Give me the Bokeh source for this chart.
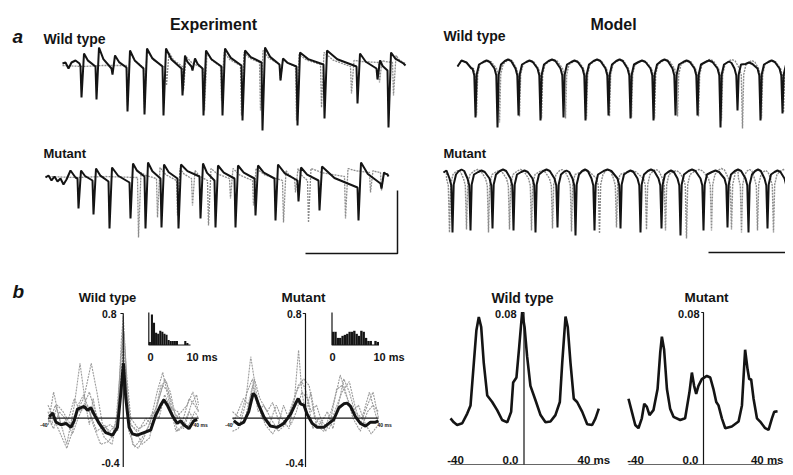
from bokeh.plotting import figure
from bokeh.models import Range1d, Label
from bokeh.embed import file_html
from bokeh.resources import INLINE

W, H = 785, 467
OFF = 0
FONT = "Liberation Sans"

# ---------------- DATA ----------------
# Panel a, Experiment, wild type (time units, potential units)
ewt_start_t = [0, 3, 6, 9, 13, 17]
ewt_start_v = [2, 3, -3, 3, 5, 2]
ewt_spike_t = [19, 34, 50, 65, 82, 101, 120, 130, 141, 160, 180, 200, 218, 235, 262, 295, 315, 326]
ewt_trough = [-32, -34, -9, -46, -49, -50, -30, -5, -50, -50, -55, -65, -15, -60, -53, -38, -14, -62]
ewt_peak = [12, 18, 10, 15, 17, 17, 10, 7, 15, 17, 15, 18, 7, 13, 15, 12, 5, 13]
ewt_pre = [-1, -1, -3, -2, -3, -1, -3, -1, -3, -1, 0, 3, 1, -1, 1, -1, -3, -5]
ewt_end_t = [341, 343]
ewt_end_v = [2, 0]

ewt2_start_t = [0, 20, 40, 61]
ewt2_start_v = [0, -1, 0, 0]
ewt2_spike_t = [65, 82, 104, 121, 142, 159, 179, 198, 218, 234, 259, 289, 317, 331]
ewt2_trough = [-40, -43, -20, -25, -45, -35, -50, -45, -15, -55, -42, -28, -17, -30]
ewt2_peak = [13, 15, 13, 9, 13, 13, 13, 15, 7, 11, 13, 5, 5, 10]
ewt2_pre = [0, -2, -2, -1, -3, -1, 0, 3, 1, -1, 1, -1, 3, 3]
ewt2_end_t = [343]
ewt2_end_v = [2]

# Panel a, Experiment, mutant
emu_start_t = [0, 3, 6, 9, 12, 15, 18, 21, 25, 30]
emu_start_v = [0, 2, -3, 1, -4, -1, -7, -2, 7, 0]
emu_spike_t = [33, 48, 64, 85, 100, 116, 133, 155, 170, 190, 210, 230, 253, 274, 313, 336]
emu_trough = [-31, -37, -51, -41, -51, -50, -51, -41, -50, -50, -38, -43, -24, -33, -43, -11]
emu_peak = [7, 9, 10, 14, 15, 13, 13, 14, 12, 12, 12, 13, 10, 11, 15, 5]
emu_pre = [-1, -3, -4, -5, 1, -1, -1, 1, -3, -1, -1, -1, -3, -3, -10, -6]
emu_end_t = [342, 343]
emu_end_v = [3, 1]

emu2_start_t = [0, 30, 60, 90]
emu2_start_v = [1, 0, 1, 0]
emu2_spike_t = [93, 112, 132, 147, 163, 185, 208, 238, 250, 263, 300, 325, 336]
emu2_trough = [-60, -40, -38, -28, -48, -21, -28, -45, -15, -45, -41, -15, -13]
emu2_peak = [5, 10, 9, 7, 9, 9, 9, 7, 9, 9, 9, 7, 5]
emu2_pre = [0, -1, -3, -1, -3, -1, -3, -3, -1, -3, 1, 5, 5]
emu2_end_t = [343]
emu2_end_v = [3]

# Panel a, Model, wild type
mwt_start_t = [0, 4, 9, 14]
mwt_start_v = [-6, 0, -2, -8]
mwt_spike_t = [18, 40, 61, 83, 106, 128, 151, 173, 196, 218, 240, 263, 280, 303, 325]
mwt_trough = [-57, -67, -55, -60, -57, -60, -55, -58, -60, -55, -55, -67, -50, -60, -53]
mwt_hump = [0, 1, 0, 1, 0, 1, 1, 0, 1, 0, 0, -1, -2, 0, 1]
mwt_end_t = [336]
mwt_end_v = [-2]

mwt2_spike_t = [19, 42, 62, 84, 108, 129, 152, 174, 197, 220, 241, 264, 285, 304, 326]
mwt2_trough = [-55, -62, -56, -58, -58, -58, -56, -57, -58, -56, -56, -60, -68, -58, -52]
mwt2_hump = [0, 1, 0, 1, 0, 1, 1, 0, 1, 0, 1, 1, 0, 0, 1]

# Panel a, Model, mutant
mmu_start_t = [0, 3]
mmu_start_v = [-2, 0]
mmu_spike_t = [9, 27, 49, 70, 92, 114, 132, 151, 177, 197, 218, 237, 260, 284, 305, 324, 344]
mmu_trough = [-62, -60, -58, -60, -62, -57, -65, -60, -58, -62, -58, -65, -60, -57, -62, -58, -48]
mmu_hump = [1, 0, 1, 0, 1, 0, 1, 1, 0, 1, 0, 1, 0, 1, 1, 0, 0]
mmu_end_t = [350]
mmu_end_v = [-3]

mmu2_spike_t = [6, 23, 45, 66, 88, 109, 128, 156, 173, 203, 222, 243, 268, 288, 298, 314, 330]
mmu2_trough = [-62, -59, -62, -59, -60, -58, -61, -63, -57, -59, -60, -68, -60, -59, -62, -60, -62]
mmu2_hump = [0, 1, 0, 1, 0, 1, 0, 1, 0, 1, 0, 1, 2, 0, 1, 0, 1]

# Panel b, experiment cross-correlograms (lag ms, correlation)
cwt_avg_x = [-39.3, -37.5, -35.8, -33.1, -30.5, -27.8, -26.1, -24.3, -22.5, -20.8, -19.0, -17.2, -15.5, -12.8,
             -9.3, -5.7, -3.1, -1.3, 0.1, 1.3, 3.1, 4.9, 7.5, 11.0, 14.6, 17.2, 19.9, 21.6, 23.4, 26.1, 28.7,
             30.5, 32.2, 34.9, 37.5, 39.3]
cwt_avg_y = [0.01, 0.04, -0.03, -0.05, -0.04, -0.07, -0.02, 0.07, 0.08, 0.09, 0.06, 0.08, 0.03, -0.04,
             -0.11, -0.13, -0.07, 0.19, 0.42, 0.16, -0.07, -0.12, -0.13, -0.11, -0.09, 0.02, 0.10, 0.14, 0.10,
             0.02, -0.04, -0.02, -0.05, -0.08, -0.02, -0.01]
cwt_ind = [
    ([-40, -37, -34, -30, -26, -23, -20, -18, -16, -14, -10, -6, -3, -1, 0, 1.5, 3, 6, 10, 14, 18, 21, 24, 28, 32, 35, 38, 40],
     [-0.05, 0.2, 0.0, -0.2, 0.1, 0.42, 0.1, -0.05, 0.15, 0.0, -0.15, -0.2, 0.0, 0.6, 0.78, 0.4, -0.1, -0.22, -0.15, -0.05, 0.2, 0.35, 0.15, -0.1, -0.05, 0.05, -0.02, 0.0]),
    ([-40, -38, -35, -32, -28, -25, -21, -17, -14, -11, -7, -4, -2, 0, 2, 4, 8, 12, 15, 19, 22, 25, 28, 31, 34, 37, 40],
     [0.05, -0.05, 0.1, 0.05, -0.05, 0.05, 0.15, 0.42, 0.2, -0.05, -0.1, -0.05, 0.3, 0.7, 0.2, -0.05, -0.1, 0.0, -0.05, 0.15, 0.30, 0.2, 0.0, 0.05, 0.1, 0.2, 0.05]),
    ([-40, -37, -34, -30, -27, -24, -21, -18, -14, -10, -6, -3, -1, 0.5, 2, 5, 8, 11, 15, 18, 21, 24, 27, 31, 35, 38, 40],
     [0.1, 0.0, -0.1, -0.23, -0.1, 0.1, 0.18, 0.05, -0.1, -0.05, -0.15, 0.05, 0.5, 0.65, 0.1, -0.2, -0.23, -0.15, 0.0, 0.1, 0.25, 0.2, 0.05, -0.05, 0.15, 0.1, 0.05]),
    ([-40, -36, -33, -29, -26, -23, -19, -16, -12, -8, -4, -1.5, 0, 1.5, 4, 7, 10, 14, 17, 20, 23, 26, 29, 33, 36, 39, 40],
     [-0.05, 0.1, -0.05, 0.0, 0.15, 0.05, 0.1, -0.05, -0.2, -0.18, -0.1, 0.2, 0.55, 0.3, -0.05, -0.1, -0.2, -0.15, 0.05, 0.25, 0.28, 0.05, -0.1, -0.05, 0.1, 0.18, 0.1]),
    ([-40, -37, -34, -31, -27, -24, -21, -18, -15, -11, -7, -3, -1, 0.5, 2, 4, 8, 12, 16, 19, 22, 25, 29, 32, 35, 38, 40],
     [0.0, -0.08, 0.05, 0.0, -0.12, 0.0, 0.1, 0.2, 0.05, -0.08, -0.05, -0.1, 0.35, 0.6, 0.3, 0.0, -0.08, -0.05, 0.05, 0.0, 0.18, 0.08, 0.05, -0.08, -0.05, 0.05, 0.0]),
]

cmu_avg_x = [-39.3, -36.5, -33.8, -31.1, -28.7, -27.4, -25.6, -22.8, -19.2, -15.5, -11.9, -8.2, -5.5, -4.0,
             -2.7, -0.9, 0.9, 3.7, 6.4, 10.0, 12.8, 15.5, 18.3, 21.0, 22.8, 24.7, 27.4, 30.1, 32.9, 35.6, 38.4, 40.0]
cmu_avg_y = [-0.02, -0.05, -0.03, 0.05, 0.19, 0.17, 0.10, 0.01, -0.06, -0.07, -0.04, 0.03, 0.11, 0.15,
             0.11, 0.10, 0.03, -0.04, -0.07, -0.07, -0.04, -0.01, 0.08, 0.11, 0.115, 0.09, 0.01, -0.04, -0.06,
             -0.03, -0.03, -0.02]
cmu_ind = [
    ([-40, -36, -33, -30, -27, -24, -20, -16, -13, -9, -6, -3.8, -2, 0, 3, 6, 10, 14, 17, 19, 22, 26, 30, 34, 37, 40],
     [0.0, -0.05, 0.1, 0.47, 0.2, 0.0, -0.05, 0.1, 0.0, -0.08, 0.15, 0.52, 0.2, 0.05, 0.2, -0.05, -0.1, 0.05, 0.2, 0.33, 0.2, 0.0, -0.1, 0.05, 0.1, 0.05]),
    ([-40, -37, -34, -31, -28, -25, -21, -18, -14, -10, -7, -4, -1, 2, 5, 8, 12, 15, 18, 21, 24, 27, 31, 35, 38, 40],
     [-0.05, 0.05, 0.15, 0.1, 0.3, 0.15, 0.05, 0.12, -0.05, 0.0, 0.1, 0.25, 0.3, 0.25, 0.0, -0.05, 0.05, -0.08, 0.1, 0.3, 0.2, 0.05, 0.0, 0.2, 0.05, -0.05]),
    ([-40, -37, -33, -29, -26, -22, -18, -15, -12, -8, -5, -2, 1, 4, 7, 11, 14, 17, 20, 23, 26, 29, 33, 36, 40],
     [-0.1, -0.08, 0.0, 0.25, 0.1, -0.05, -0.12, -0.05, 0.1, -0.05, 0.05, 0.2, 0.15, -0.08, 0.0, -0.1, 0.0, 0.22, 0.25, 0.15, 0.05, 0.1, -0.05, -0.12, -0.05]),
    ([-40, -36, -32, -29, -26, -23, -19, -15, -11, -8, -5, -2, 0, 3, 6, 9, 13, 16, 20, 24, 27, 30, 34, 37, 40],
     [0.05, 0.0, 0.2, 0.3, 0.05, 0.1, 0.0, -0.1, -0.05, 0.08, 0.2, 0.28, 0.22, 0.05, 0.1, -0.03, -0.08, 0.05, 0.2, 0.28, 0.1, -0.05, 0.1, 0.2, 0.0]),
]

# Inset histograms (0.5 ms bins, 0-10 ms)
hist_bins = [0.25, 0.75, 1.25, 1.75, 2.25, 2.75, 3.25, 3.75, 4.25, 4.75,
             5.25, 5.75, 6.25, 6.75, 7.25, 7.75, 8.25, 8.75, 9.25, 9.75]
hist_wt = [3, 30, 22, 12, 11, 14, 13, 11, 10, 5, 4, 4, 4, 4, 0, 0, 0, 4, 2, 0]
hist_mu = [13, 13, 7, 7, 9, 10, 11, 13, 13, 14, 11, 9, 14, 13, 7, 4, 4, 0, 4, 3]

# Model cross-correlograms
mc_wt_x = [-40.0, -38.2, -36.4, -33.6, -30.9, -29.1, -27.3, -25.9, -24.6, -23.3, -21.9, -20.0, -17.3, -14.6,
           -11.9, -9.1, -7.0, -5.9, -4.1, -2.6, -1.0, 0.3, 1.7, 3.5, 6.3, 9.0, 11.7, 14.4, 17.1, 19.5, 20.8,
           22.6, 23.8, 25.3, 27.1, 28.9, 31.7, 34.4, 37.1, 38.9, 40.7]
mc_wt_y = [0.0243, 0.0222, 0.0208, 0.0217, 0.0268, 0.0311, 0.0535, 0.0707, 0.0776, 0.0724, 0.0535, 0.0363,
           0.0329, 0.0286, 0.0234, 0.0222, 0.0277, 0.0432, 0.0458, 0.0621, 0.0802, 0.0724, 0.0569, 0.0414,
           0.0337, 0.0260, 0.0222, 0.0226, 0.0260, 0.0329, 0.0535, 0.0779, 0.0724, 0.0535, 0.0346, 0.0329,
           0.0277, 0.0212, 0.0208, 0.0243, 0.0294]
mc_mu_x = [-40.0, -38.2, -36.4, -34.7, -32.9, -31.6, -30.2, -28.8, -26.7, -24.5, -23.1, -22.2, -21.0, -19.5,
           -17.8, -16.0, -12.4, -9.8, -7.5, -6.2, -5.0, -3.9, -2.7, -0.9, 1.8, 3.6, 5.3, 6.8, 8.0, 9.8, 11.6,
           15.1, 18.7, 20.5, 21.3, 22.2, 23.5, 24.4, 25.4, 26.7, 28.5, 30.2, 32.9, 34.7, 36.5, 37.7, 39.5]
mc_mu_y = [0.0346, 0.0277, 0.0208, 0.0191, 0.0243, 0.0320, 0.0303, 0.0260, 0.0286, 0.0397, 0.0587, 0.0673,
           0.0604, 0.0397, 0.0294, 0.0251, 0.0234, 0.0243, 0.0380, 0.0484, 0.0414, 0.0372, 0.0414, 0.0449,
           0.0466, 0.0458, 0.0397, 0.0329, 0.0311, 0.0243, 0.0191, 0.0200, 0.0226, 0.0311, 0.0449, 0.0604,
           0.0501, 0.0449, 0.0449, 0.0346, 0.0243, 0.0226, 0.0191, 0.0182, 0.0243, 0.0277, 0.0280]

# Scale bars (panel a), in trace units
EXP_BAR_T = 92
EXP_BAR_V = 63
MOD_BAR_T = 85


# ---------------- BUILDERS ----------------
def exp_train(st_t, st_v, sp, tr, pk, pre, en_t, en_v):
    xs, ys = list(st_t), list(st_v)
    n = len(sp)
    for i in range(n):
        xs += [sp[i] - 1.0, sp[i], sp[i] + 2.5]
        ys += [pre[i], tr[i], pk[i]]
        if i + 1 < n:
            nxt_t, nxt_v = sp[i + 1] - 1.0, pre[i + 1]
        else:
            nxt_t, nxt_v = en_t[0], en_v[0]
        gap = nxt_t - (sp[i] + 2.5)
        xs.append(sp[i] + 2.5 + 0.35 * gap)
        ys.append(pk[i] + 0.55 * (nxt_v - pk[i]))
    xs += list(en_t)
    ys += list(en_v)
    return xs, ys


def model_train(st_t, st_v, sp, tr, hump, en_t, en_v):
    xs, ys = list(st_t), list(st_v)
    n = len(sp)
    for i in range(n):
        xs += [sp[i] - 3.0, sp[i] - 1.2, sp[i], sp[i] + 1.2, sp[i] + 3.5]
        ys += [-8, -15, tr[i], -14, -4]
        nxt = sp[i + 1] if i + 1 < n else en_t[0]
        mid = 0.5 * (sp[i] + nxt)
        xs += [mid - 0.15 * (nxt - sp[i]), mid, mid + 0.15 * (nxt - sp[i])]
        ys += [hump[i] - 1.5, hump[i], hump[i] - 1.5]
    xs += list(en_t)
    ys += list(en_v)
    return xs, ys


# ---------------- FIGURE ----------------
p = figure(width=W, height=H, output_backend="svg", toolbar_location=None,
           x_range=Range1d(0, W), y_range=Range1d(H, 0),
           x_axis_type=None, y_axis_type=None, min_border=0)
p.outline_line_color = None
p.grid.visible = False
p.background_fill_color = "white"
p.border_fill_color = "white"


def xr(d0, d1, a, b):
    a -= OFF
    b -= OFF
    s = (d1 - d0) / (b - a)
    return Range1d(start=d0 - a * s, end=d0 + (W - a) * s)


def yr(dtop, dbot, t, bb):
    t -= OFF
    bb -= OFF
    s = (dtop - dbot) / (bb - t)
    return Range1d(start=dbot - (H - bb) * s, end=dtop + t * s)


p.extra_x_ranges = {
    "ewt_a": xr(0, 343, 62, 405), "emu_a": xr(0, 343, 45, 388),
    "mwt_a": xr(0, 336, 457, 793), "mmu_a": xr(0, 350, 443, 793),
    "cwt": xr(-40, 40, 47.5, 198), "cmu": xr(-40, 40, 232, 378),
    "hwt": xr(0, 10, 148.3, 190), "hmu": xr(0, 10, 331.5, 378.5),
    "mcw": xr(-40, 40, 450, 597), "mcm": xr(-40, 40, 628, 778),
}
p.extra_y_ranges = {
    "ewt_a": yr(0, -50, 65, 115), "emu_a": yr(0, -50, 177, 227),
    "mwt_a": yr(0, -50, 60, 110), "mmu_a": yr(0, -50, 170, 220),
    "cor": yr(0.8, 0.0, 313, 417.7),
    "hist": yr(32, 0, 312, 344.5),
    "mc": yr(0.08, 0.0, 312, 464),
}

BLACK = "#141414"
GRAY = "#8c8c8c"

# --- panel a traces ---
x, y = exp_train(ewt2_start_t, ewt2_start_v, ewt2_spike_t, ewt2_trough, ewt2_peak, ewt2_pre, ewt2_end_t, ewt2_end_v)
p.line(x, y, x_range_name="ewt_a", y_range_name="ewt_a", line_color=GRAY, line_width=1.3, line_dash="2 1")
x, y = exp_train(ewt_start_t, ewt_start_v, ewt_spike_t, ewt_trough, ewt_peak, ewt_pre, ewt_end_t, ewt_end_v)
p.line(x, y, x_range_name="ewt_a", y_range_name="ewt_a", line_color=BLACK, line_width=2.0)

x, y = exp_train(emu2_start_t, emu2_start_v, emu2_spike_t, emu2_trough, emu2_peak, emu2_pre, emu2_end_t, emu2_end_v)
p.line(x, y, x_range_name="emu_a", y_range_name="emu_a", line_color=GRAY, line_width=1.3, line_dash="2 1")
x, y = exp_train(emu_start_t, emu_start_v, emu_spike_t, emu_trough, emu_peak, emu_pre, emu_end_t, emu_end_v)
p.line(x, y, x_range_name="emu_a", y_range_name="emu_a", line_color=BLACK, line_width=2.0)

x, y = model_train(mwt_start_t, mwt_start_v, mwt2_spike_t, mwt2_trough, mwt2_hump, mwt_end_t, mwt_end_v)
p.line(x, y, x_range_name="mwt_a", y_range_name="mwt_a", line_color=GRAY, line_width=1.4, line_dash="2 1")
x, y = model_train(mwt_start_t, mwt_start_v, mwt_spike_t, mwt_trough, mwt_hump, mwt_end_t, mwt_end_v)
p.line(x, y, x_range_name="mwt_a", y_range_name="mwt_a", line_color=BLACK, line_width=2.0)

x, y = model_train(mmu_start_t, mmu_start_v, mmu2_spike_t, mmu2_trough, mmu2_hump, mmu_end_t, mmu_end_v)
p.line(x, y, x_range_name="mmu_a", y_range_name="mmu_a", line_color=GRAY, line_width=1.4, line_dash="2 1")
x, y = model_train(mmu_start_t, mmu_start_v, mmu_spike_t, mmu_trough, mmu_hump, mmu_end_t, mmu_end_v)
p.line(x, y, x_range_name="mmu_a", y_range_name="mmu_a", line_color=BLACK, line_width=2.0)

# scale bars
bar_t_end = emu_end_t[-1] + 9
p.line([bar_t_end - EXP_BAR_T, bar_t_end, bar_t_end], [-76, -76, -76 + EXP_BAR_V],
       x_range_name="emu_a", y_range_name="emu_a", line_color=BLACK, line_width=1.5)
p.line([mmu_end_t[0] - MOD_BAR_T, mmu_end_t[0]], [-82, -82],
       x_range_name="mmu_a", y_range_name="mmu_a", line_color=BLACK, line_width=1.5)

# --- panel b, experiment correlograms ---
for rng, ind, ax, ay in (("cwt", cwt_ind, cwt_avg_x, cwt_avg_y), ("cmu", cmu_ind, cmu_avg_x, cmu_avg_y)):
    for xs, ys in ind:
        p.line(xs, ys, x_range_name=rng, y_range_name="cor", line_color="#9a9a9a", line_width=1.1, line_dash="2 1")
    p.line([-40, 40], [0, 0], x_range_name=rng, y_range_name="cor", line_color=BLACK, line_width=1.2)
    p.line([-1.5, 0, 0, -1.5], [0.8, 0.8, -0.4, -0.4], x_range_name=rng, y_range_name="cor",
           line_color=BLACK, line_width=1.2)
    p.line(ax, ay, x_range_name=rng, y_range_name="cor", line_color=BLACK, line_width=3.0)

# inset histograms
for rng, counts in (("hwt", hist_wt), ("hmu", hist_mu)):
    p.vbar(x=hist_bins, width=0.5, top=counts, bottom=0, x_range_name=rng, y_range_name="hist",
           fill_color=BLACK, line_color=None)
    p.line([0, 0, 10], [32, 0, 0], x_range_name=rng, y_range_name="hist", line_color=BLACK, line_width=1.2)

# --- panel b, model correlograms ---
for rng, xs, ys in (("mcw", mc_wt_x, mc_wt_y), ("mcm", mc_mu_x, mc_mu_y)):
    p.line([-40, 40], [0, 0], x_range_name=rng, y_range_name="mc", line_color="#666666", line_width=1.2)
    p.line([-1.2, 0, 0], [0.08, 0.08, 0.0], x_range_name=rng, y_range_name="mc", line_color=BLACK, line_width=1.2)
    p.line(xs, ys, x_range_name=rng, y_range_name="mc", line_color=BLACK, line_width=2.6)


# ---------------- TEXT ----------------
def lab(text, rx, ry, size, align="left", style="bold"):
    p.add_layout(Label(x=rx - OFF, y=ry - OFF, text=text, text_font=FONT, text_font_size=f"{size}px",
                       text_font_style=style, text_align=align, text_baseline="alphabetic",
                       text_color=BLACK))


lab("a", 12, 36, 19, style="bold italic")
lab("b", 12, 291, 19, style="bold italic")
lab("Experiment", 213, 24, 16, align="center")
lab("Model", 613, 24, 16, align="center")
lab("Wild type", 43, 38, 14)
lab("Wild type", 443, 35, 14)
lab("Mutant", 43, 153, 13)
lab("Mutant", 443, 153, 13)

lab("Wild type", 107, 297, 13, align="center")
lab("Mutant", 303, 297, 13.5, align="center")
lab("Wild type", 522, 297, 14, align="center")
lab("Mutant", 706, 297, 13.5, align="center")

lab("0.8", 116, 313, 10.5, align="right")
lab("-0.4", 119, 462, 10.5, align="right")
lab("0.8", 301, 313, 10.5, align="right")
lab("-0.4", 303, 462, 10.5, align="right")
lab("-40", 47, 424, 5, align="right")
lab("40 ms", 193, 424, 5)
lab("-40", 232, 424, 5, align="right")
lab("40 ms", 377, 424, 5)

lab("0", 150, 356, 11, align="center")
lab("10 ms", 186, 356, 11)
lab("0", 332, 356, 11, align="center")
lab("10 ms", 373, 356, 11)

lab("0.08", 516, 313, 11, align="right")
lab("0.08", 699, 313, 11, align="right")
lab("-40", 455, 459, 11.5, align="center")
lab("0.0", 510, 459, 11.5, align="center")
lab("40 ms", 577, 459, 11.5)
lab("-40", 635, 459, 11.5, align="center")
lab("0.0", 690, 459, 11.5, align="center")
lab("40 ms", 783, 459, 11.5, align="right")

open("out.html", "w").write(file_html(p, INLINE))
